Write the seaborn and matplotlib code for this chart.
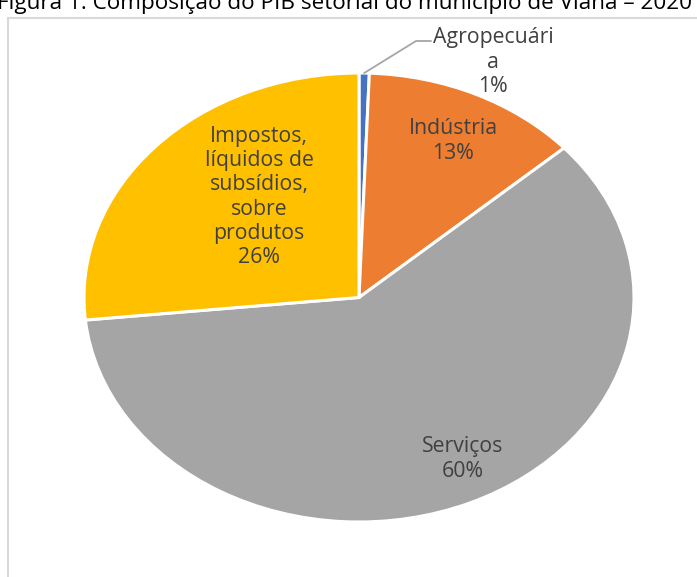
import matplotlib
matplotlib.use("Agg")
import matplotlib.pyplot as plt
import seaborn as sns
import numpy as np

sns.set_theme(style="white")
plt.rcParams['font.family'] = ['Open Sans', 'DejaVu Sans']

# ---- data ----
setores = ["Agropecuária", "Indústria", "Serviços",
           "Impostos, líquidos de subsídios, sobre produtos"]
valores = [0.6, 12.8, 60.0, 26.6]
rotulos = ["Agropecuári\na\n1%", "Indústria\n13%", "Serviços\n60%",
           "Impostos,\nlíquidos de\nsubsídios,\nsobre\nprodutos\n26%"]
cores = ["#4472C4", "#ED7D31", "#A5A5A5", "#FFC000"]
titulo = "Figura 1: Composição do PIB setorial do município de Viana – 2020"

W, H = 697, 577
fig = plt.figure(figsize=(W / 100, H / 100), dpi=100)

# frame around the chart area (partially visible)
frame = plt.Rectangle((8 / W, -0.05), 1.2, (H - 18) / H + 0.05,
                      transform=fig.transFigure, fill=False,
                      edgecolor="#D9D9D9", linewidth=1.5)
fig.patches.append(frame)

# title, cut off at the top
fig.text(-3 / W, 1 - 3 / H, titulo, ha="left", va="center",
         fontsize=16.2, color="#000000")

# pie axes (elliptical)
left, right, top, bottom = 84, 634, 73, 522
ax = fig.add_axes([left / W, (H - bottom) / H, (right - left) / W, (bottom - top) / H])
wedges, _ = ax.pie(valores, colors=cores, startangle=90, counterclock=False,
                   wedgeprops=dict(edgecolor="white", linewidth=2.2),
                   radius=1.0)
ax.set_aspect("auto")
ax.set_xlim(-1, 1)
ax.set_ylim(-1, 1)
ax.axis("off")
for w in wedges:
    w.set_clip_on(False)

def px2data(x, y):
    return ((x - (left + right) / 2) / ((right - left) / 2),
            ((top + bottom) / 2 - y) / ((bottom - top) / 2))

label_px = [None, (453, 141), (463, 459), (259, 197)]
txtkw = dict(ha="center", va="center", fontsize=15.3, color="#404040",
             linespacing=1.2)
for i in range(1, 4):
    x, y = px2data(*label_px[i])
    ax.text(x, y, rotulos[i], **txtkw)

# Agropecuária: outside label with leader line from wedge edge
w0 = wedges[0]
mid = np.deg2rad((w0.theta1 + w0.theta2) / 2)
x0, y0 = np.cos(mid) * 1.0, np.sin(mid) * 1.0
x1, y1 = px2data(416, 41)
x2, y2 = px2data(431, 41)
ax.plot([x0, x1, x2], [y0, y1, y2], color="#A6A6A6", lw=1.3, clip_on=False)
xa, ya = px2data(493, 62)
ax.text(xa, ya, rotulos[0], **txtkw)

fig.savefig("out.png", dpi=100, facecolor="white")
